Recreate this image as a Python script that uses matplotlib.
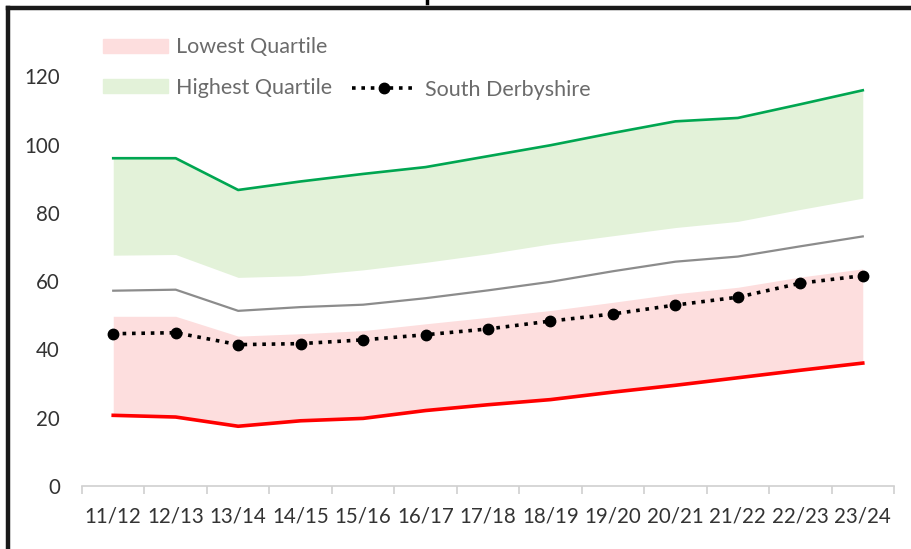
import matplotlib

matplotlib.use("Agg")
import matplotlib.pyplot as plt
from matplotlib.lines import Line2D
from matplotlib.patches import Patch
import numpy as np

plt.rcParams["font.family"] = ["Lato", "DejaVu Sans"]

years = ["11/12", "12/13", "13/14", "14/15", "15/16", "16/17", "17/18",
         "18/19", "19/20", "20/21", "21/22", "22/23", "23/24"]
highest = [96.0, 96.0, 86.7, 89.2, 91.4, 93.4, 96.6, 99.8, 103.4, 106.8, 107.8, 111.8, 115.9]
upper_q = [67.6, 67.8, 61.1, 61.6, 63.3, 65.5, 68.0, 70.9, 73.3, 75.7, 77.5, 81.0, 84.3]
median = [57.2, 57.5, 51.3, 52.4, 53.1, 55.0, 57.3, 59.8, 62.9, 65.7, 67.2, 70.2, 73.1]
lower_q = [49.7, 49.7, 43.9, 44.6, 45.5, 47.5, 49.4, 51.4, 53.8, 56.3, 58.2, 61.2, 63.6]
lowest = [20.7, 20.2, 17.5, 19.1, 19.8, 22.1, 23.8, 25.3, 27.5, 29.5, 31.7, 33.9, 36.0]
south_derbyshire = [44.6, 44.9, 41.4, 41.7, 42.8, 44.3, 46.0, 48.3, 50.4, 53.0, 55.3, 59.4, 61.6]
y_ticks = [0, 20, 40, 60, 80, 100, 120]

GREEN = "#00A651"
RED = "#FF0000"
GREEN_FILL = "#E3F2D9"
PINK_FILL = "#FDDEDE"
TEXT = "#333333"
LEGEND_TEXT = "#6b6b6b"

W, H = 912, 549
fig = plt.figure(figsize=(W / 100, H / 100), dpi=100)
ax = fig.add_axes([82 / W, 63 / H, 812 / W, 478 / H])

x = np.arange(len(years))
ax.fill_between(x, upper_q, highest, color=GREEN_FILL, lw=0, zorder=1)
ax.fill_between(x, lowest, lower_q, color=PINK_FILL, lw=0, zorder=1)
ax.plot(x, highest, color=GREEN, lw=1.9, zorder=3)
ax.plot(x, median, color="#8c8c8c", lw=1.6, zorder=3)
ax.plot(x, lowest, color=RED, lw=2.6, zorder=3)
ax.plot(x, south_derbyshire, color="black", lw=2.6, ls=(0, (1, 1.6)),
        marker="o", ms=7.5, zorder=4)

ax.set_xlim(-0.5, len(years) - 0.5)
ax.set_ylim(0, 140)
ax.set_yticks(y_ticks)
ax.set_xticks(x)
ax.set_xticklabels(years)
ax.set_xticks(np.arange(-0.5, len(years)), minor=True)
ax.tick_params(axis="x", which="major", length=0, pad=15, labelsize=14.8, labelcolor=TEXT)
ax.tick_params(axis="x", which="minor", length=6, width=1.2, color="#d0d0d0")
ax.tick_params(axis="y", length=0, pad=16, labelsize=14.8, labelcolor=TEXT)
for side in ["top", "right", "left"]:
    ax.spines[side].set_visible(False)
ax.spines["bottom"].set_color("#d0d0d0")
ax.spines["bottom"].set_linewidth(1.2)

leg1 = ax.legend(
    handles=[Patch(color=PINK_FILL, label="Lowest Quartile"),
             Patch(color=GREEN_FILL, label="Highest Quartile")],
    loc="center left", bbox_to_anchor=((103 - 82) / 812, (486 - 67.5) / 478),
    frameon=False, fontsize=15.5, labelcolor=LEGEND_TEXT, borderpad=0,
    borderaxespad=0, handlelength=3.0, handleheight=0.65, handletextpad=0.37,
    labelspacing=0.95)
ax.add_artist(leg1)
ax.legend(
    handles=[Line2D([], [], color="black", lw=2.6, ls=(0, (1, 1.6)),
                    marker="o", ms=7.5, label="South Derbyshire")],
    loc="center left", bbox_to_anchor=((352 - 82) / 812, (486 - 90) / 478),
    frameon=False, fontsize=15.5, labelcolor=LEGEND_TEXT, borderpad=0,
    borderaxespad=0, handlelength=3.0, handletextpad=0.37, numpoints=1)

# chart frame (top and left edges) plus the stub of the cropped title above it
fig.add_artist(Line2D([8 / W, 1], [1 - 8 / H, 1 - 8 / H], color="#1a1a1a", lw=3.2,
                      transform=fig.transFigure))
fig.add_artist(Line2D([8 / W, 8 / W], [0, 1 - 8 / H], color="#1a1a1a", lw=3.2,
                      transform=fig.transFigure))
fig.add_artist(Line2D([427 / W, 427 / W], [1 - 3 / H, 1], color="black", lw=2.5,
                      transform=fig.transFigure))

fig.savefig("out.png", dpi=100, facecolor="white")
